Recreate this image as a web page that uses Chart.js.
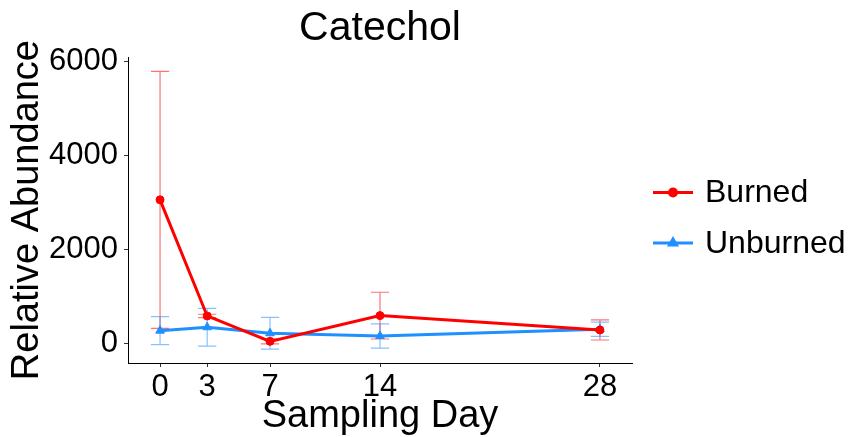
<!DOCTYPE html>
<html>
<head>
<meta charset="utf-8">
<script src="https://cdn.jsdelivr.net/npm/chart.js@4/dist/chart.umd.min.js"></script>
<style>
  html, body { margin: 0; padding: 0; background: #ffffff; }
  #wrap { width: 854px; height: 437px; }
</style>
</head>
<body>
<div id="wrap"><canvas id="c" width="854" height="437"></canvas></div>
<script>
// Sampling days and mean relative abundance of catechol (± error)
const days = [0, 3, 7, 14, 28];
const dayTicks = [0, 3, 7, 14, 28];
const abundanceTicks = [0, 2000, 4000, 6000];

const burnedMean = [3053, 585, 45, 592, 287];
const burnedErr = [2730, 36, 53, 497, 213];

const unburnedMean = [273, 345, 217, 160, 302];
const unburnedErr = [298, 400, 336, 258, 150];

const FONT = "'Liberation Sans', Arial, sans-serif";
const CAP_HALF = 0.58; // half-width of the error bar caps, in days

function pts(mean) {
  return days.map((d, i) => ({ x: d, y: mean[i] }));
}

// Vertical error bars with caps, drawn beneath the lines
const errorBars = {
  id: 'errorBars',
  beforeDatasetsDraw(chart) {
    const { ctx, scales: { x, y } } = chart;
    chart.data.datasets.forEach(ds => {
      ctx.save();
      ctx.strokeStyle = ds.errorColor;
      ctx.lineWidth = 1.2;
      ds.data.forEach((p, i) => {
        const e = ds.errors[i];
        const xc = x.getPixelForValue(p.x);
        const xl = x.getPixelForValue(p.x - CAP_HALF);
        const xr = x.getPixelForValue(p.x + CAP_HALF);
        const yt = y.getPixelForValue(p.y + e);
        const yb = y.getPixelForValue(p.y - e);
        ctx.beginPath();
        ctx.moveTo(xc, yt); ctx.lineTo(xc, yb);
        ctx.moveTo(xl, yt); ctx.lineTo(xr, yt);
        ctx.moveTo(xl, yb); ctx.lineTo(xr, yb);
        ctx.stroke();
      });
      ctx.restore();
    });
  }
};

// Legend on the right: a line with its marker, then the series name
const sideLegend = {
  id: 'sideLegend',
  afterDraw(chart) {
    const { ctx } = chart;
    const x0 = 653, x1 = 693, textX = 705;
    const rows = [192.5, 243];
    chart.data.datasets.forEach((ds, i) => {
      const yy = rows[i];
      ctx.save();
      ctx.strokeStyle = ds.borderColor;
      ctx.lineWidth = 3;
      ctx.beginPath();
      ctx.moveTo(x0, yy); ctx.lineTo(x1, yy);
      ctx.stroke();
      ctx.strokeStyle = ds.borderColor;
      ctx.fillStyle = ds.backgroundColor;
      Chart.helpers.drawPoint(ctx, {
        pointStyle: ds.pointStyle,
        radius: ds.pointStyle === 'triangle' ? 4 : 3.5,
        rotation: 0,
        borderWidth: 1
      }, (x0 + x1) / 2, yy);
      ctx.fillStyle = '#000000';
      ctx.font = '32px ' + FONT;
      ctx.textBaseline = 'middle';
      ctx.textAlign = 'left';
      ctx.fillText(ds.label, textX, yy + 1);
      ctx.restore();
    });
  }
};

// Set plot region edges
function fixWidth(w) { return scale => { scale.width = w; }; }
function fixHeight(h) { return scale => { scale.height = h; }; }
const plainLabel = v => String(v);

new Chart(document.getElementById('c'), {
  type: 'line',
  data: {
    datasets: [
      {
        label: 'Burned',
        data: pts(burnedMean),
        errors: burnedErr,
        errorColor: 'rgba(255,0,0,0.55)',
        borderColor: '#FF0000',
        backgroundColor: '#FF0000',
        borderWidth: 3,
        pointStyle: 'circle',
        pointRadius: 4,
        pointBorderWidth: 1,
        tension: 0
      },
      {
        label: 'Unburned',
        data: pts(unburnedMean),
        errors: unburnedErr,
        errorColor: 'rgba(30,144,255,0.55)',
        borderColor: '#1E90FF',
        backgroundColor: '#1E90FF',
        borderWidth: 3,
        pointStyle: 'triangle',
        pointRadius: 5,
        pointBorderWidth: 1,
        tension: 0
      }
    ]
  },
  options: {
    responsive: false,
    devicePixelRatio: 1,
    animation: false,
    layout: { padding: { left: 0, right: 222, top: 0, bottom: 0 } },
    plugins: {
      legend: { display: false },
      tooltip: { enabled: false },
      title: {
        display: true,
        text: 'Catechol',
        color: '#000000',
        fullSize: false,
        font: { family: FONT, size: 41, weight: 'normal' },
        padding: { top: 4, bottom: 4 }
      }
    },
    scales: {
      x: {
        type: 'linear',
        min: -2.04,
        max: 30.04,
        afterBuildTicks: s => { s.ticks = dayTicks.map(v => ({ value: v })); },
        afterFit: fixHeight(74),
        grid: { display: true, drawOnChartArea: false, drawTicks: true, tickLength: 4, color: '#333333', tickWidth: 1 },
        border: { display: true, color: '#000000', width: 1 },
        ticks: { color: '#000000', font: { family: FONT, size: 31 }, padding: 2, maxRotation: 0, autoSkip: false, callback: plainLabel },
        title: {
          display: true,
          text: 'Sampling Day',
          color: '#000000',
          font: { family: FONT, size: 38 },
          padding: { top: 0, bottom: -2 }
        }
      },
      y: {
        type: 'linear',
        min: -415,
        max: 6085,
        afterBuildTicks: s => { s.ticks = abundanceTicks.map(v => ({ value: v })); },
        afterFit: fixWidth(128),
        grid: { display: true, drawOnChartArea: false, drawTicks: true, tickLength: 4, color: '#333333', tickWidth: 1 },
        border: { display: true, color: '#000000', width: 1 },
        ticks: { color: '#000000', font: { family: FONT, size: 31 }, padding: 6, callback: plainLabel },
        title: {
          display: true,
          text: 'Relative Abundance',
          color: '#000000',
          font: { family: FONT, size: 38 },
          padding: { top: 5, bottom: 0 }
        }
      }
    }
  },
  plugins: [errorBars, sideLegend]
});
</script>
</body>
</html>
